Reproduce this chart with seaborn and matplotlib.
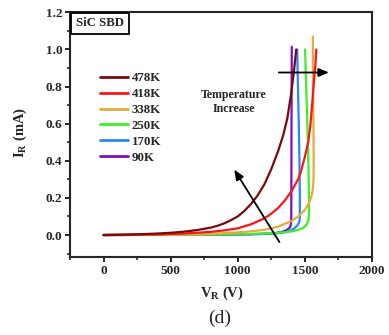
import matplotlib
matplotlib.use("Agg")
import matplotlib.pyplot as plt
import seaborn as sns
import pandas as pd
from matplotlib.ticker import MultipleLocator

temps = ["478K", "418K", "338K", "250K", "170K", "90K"]
colors = ["#7a0a0a", "#ff1414", "#e8aa3c", "#3cf02a", "#2a86ff", "#7b10c0"]

v_478 = [0, 100, 200, 300, 400, 500, 600, 700, 800, 850, 900, 950, 1000, 1050, 1100, 1150,
         1200, 1250, 1300, 1340, 1370, 1400, 1420, 1436]
i_478 = [0, 0.001, 0.003, 0.005, 0.008, 0.012, 0.018, 0.027, 0.040, 0.050, 0.063, 0.080,
         0.100, 0.130, 0.168, 0.215, 0.275, 0.355, 0.45, 0.54, 0.63, 0.77, 0.89, 1.0]

v_418 = [0, 200, 400, 600, 800, 900, 1000, 1100, 1200, 1250, 1300, 1350, 1400, 1450,
         1470, 1500, 1525, 1540, 1552, 1565, 1577, 1586]
i_418 = [0, 0.001, 0.003, 0.008, 0.017, 0.025, 0.036, 0.058, 0.09, 0.115, 0.145, 0.185,
         0.235, 0.30, 0.34, 0.42, 0.50, 0.58, 0.68, 0.80, 0.90, 1.0]

v_338 = [0, 300, 600, 800, 1000, 1100, 1200, 1300, 1400, 1450, 1500, 1530, 1550, 1560,
         1565, 1566, 1565, 1563, 1561, 1560]
i_338 = [0, 0.001, 0.003, 0.007, 0.014, 0.02, 0.028, 0.045, 0.075, 0.10, 0.135, 0.17,
         0.21, 0.25, 0.30, 0.40, 0.55, 0.70, 0.85, 1.07]

v_250 = [0, 500, 900, 1100, 1250, 1350, 1420, 1470, 1500, 1518, 1528, 1532, 1531, 1528,
         1523, 1515, 1508, 1502]
i_250 = [0, 0.001, 0.003, 0.006, 0.01, 0.015, 0.022, 0.032, 0.045, 0.062, 0.085, 0.12,
         0.20, 0.35, 0.50, 0.70, 0.85, 1.0]

v_170 = [0, 500, 900, 1100, 1250, 1330, 1380, 1420, 1445, 1458, 1463, 1463, 1460, 1455,
         1449, 1443]
i_170 = [0, 0.001, 0.002, 0.004, 0.007, 0.012, 0.02, 0.035, 0.052, 0.068, 0.09, 0.20,
         0.40, 0.60, 0.80, 1.0]

v_90 = [0, 500, 900, 1100, 1250, 1320, 1360, 1380, 1392, 1397, 1399, 1400, 1401, 1402, 1403]
i_90 = [0, 0.001, 0.002, 0.004, 0.008, 0.015, 0.025, 0.035, 0.045, 0.06, 0.10, 0.30,
        0.60, 0.85, 1.015]

series_v = [v_478, v_418, v_338, v_250, v_170, v_90]
series_i = [i_478, i_418, i_338, i_250, i_170, i_90]

x_ticks = [0, 500, 1000, 1500, 2000]
y_ticks = [0.0, 0.2, 0.4, 0.6, 0.8, 1.0, 1.2]

rows = []
for t, vs, is_ in zip(temps, series_v, series_i):
    for v, i in zip(vs, is_):
        rows.append({"T": t, "V": v, "I": i})
df = pd.DataFrame(rows)

sns.set_style("ticks")
plt.rcParams["font.family"] = ["Liberation Serif", "DejaVu Serif"]
plt.rcParams["font.weight"] = "bold"
plt.rcParams["mathtext.fontset"] = "custom"
plt.rcParams["mathtext.rm"] = "Liberation Serif:bold"
plt.rcParams["mathtext.bf"] = "Liberation Serif:bold"
plt.rcParams["mathtext.it"] = "Liberation Serif:bold"

fig = plt.figure(figsize=(3.89, 3.35), dpi=100)
ax = fig.add_axes([0.18, 0.232, 0.776, 0.731])

palette = dict(zip(temps, colors))
sns.lineplot(data=df, x="V", y="I", hue="T", hue_order=temps[::-1],
             palette=palette, sort=False, estimator=None,
             linewidth=1.6, ax=ax, legend=True)

ax.set_xlim(-250, 2000)
ax.set_ylim(-0.12, 1.2)
ax.set_xticks(x_ticks)
ax.set_yticks(y_ticks)
ax.set_xticklabels([str(x) for x in x_ticks])
ax.set_yticklabels([f"{y:.1f}" for y in y_ticks])
ax.xaxis.set_minor_locator(MultipleLocator(250))
ax.yaxis.set_minor_locator(MultipleLocator(0.1))
ax.tick_params(axis="both", which="major", direction="out", length=3.5, width=1.4,
               labelsize=9.5, pad=2)
ax.tick_params(axis="both", which="minor", direction="out", length=2.2, width=1.2)
ax.tick_params(top=False, right=False, which="both")
for lab in ax.get_xticklabels() + ax.get_yticklabels():
    lab.set_fontweight("bold")
for sp in ax.spines.values():
    sp.set_linewidth(1.5)
    sp.set_visible(True)

ax.set_xlabel(r"V$_{\rm R}$ (V)", fontsize=10.5, fontweight="bold")
ax.set_ylabel(r"I$_{\rm R}$ (mA)", fontsize=10.5, fontweight="bold")
ax.xaxis.set_label_coords(0.503, -0.11)
ax.yaxis.set_label_coords(-0.136, 0.51)

handles, labels = ax.get_legend_handles_labels()
hmap = dict(zip(labels, handles))
leg = ax.legend([hmap[t] for t in temps], temps, loc="upper left",
                bbox_to_anchor=(0.099, 0.756),
                frameon=False, fontsize=9.3, handlelength=2.2, handletextpad=0.25,
                labelspacing=0.3, borderpad=0, borderaxespad=0)
for txt in leg.get_texts():
    txt.set_fontweight("bold")
for ln in leg.get_lines():
    ln.set_linewidth(2.0)

ax.text(0.099, 0.955, "SiC SBD", transform=ax.transAxes, ha="center", va="center",
        fontsize=9.2, fontweight="bold",
        bbox=dict(boxstyle="square,pad=0.38", facecolor="white", edgecolor="black", linewidth=1.3))

ax.text(969, 0.715, "Temperature\nIncrease", ha="center", va="center",
        fontsize=8.6, fontweight="bold", linespacing=1.25)

arrow_kw = dict(arrowstyle="-|>,head_length=0.6,head_width=0.25", color="black", lw=1.3,
                shrinkA=0, shrinkB=0)
ax.annotate("", xy=(974, 0.353), xytext=(1311, -0.038), arrowprops=arrow_kw)
ax.annotate("", xy=(1680, 0.876), xytext=(1306, 0.876), arrowprops=arrow_kw)

fig.text(220 / 389, 1 - 318 / 335, "(d)", ha="center", va="center", fontsize=14,
         fontweight="normal")

fig.savefig("out.png", dpi=100)
